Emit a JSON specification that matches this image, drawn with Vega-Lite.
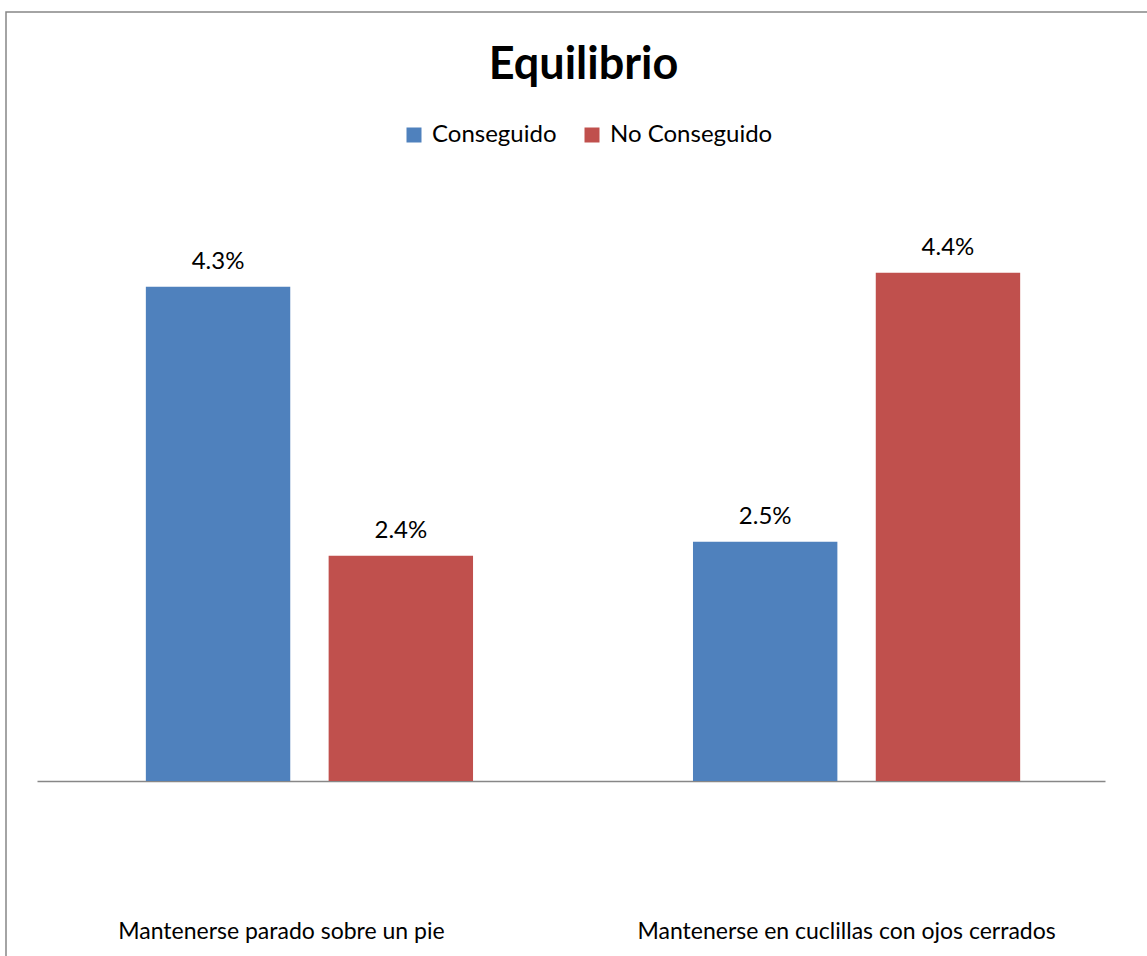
{
  "$schema": "https://vega.github.io/schema/vega-lite/v6.json",
  "width": 1143,
  "height": 946,
  "autosize": {"type": "none"},
  "padding": {"left": 6, "top": 12, "right": 0, "bottom": 0},
  "background": "white",
  "title": {
    "text": "Equilibrio",
    "font": "Lato",
    "fontSize": 45,
    "fontWeight": "bold",
    "color": "black",
    "anchor": "middle",
    "dx": 6,
    "offset": -76
  },
  "config": {
    "view": {"stroke": "#868686", "strokeWidth": 1.5},
    "font": "Lato"
  },
  "data": {
    "values": [
      {"prueba": "Mantenerse parado sobre un pie", "resultado": "Conseguido", "porcentaje": 0.043},
      {"prueba": "Mantenerse parado sobre un pie", "resultado": "No Conseguido", "porcentaje": 0.024},
      {"prueba": "Mantenerse en cuclillas con ojos cerrados", "resultado": "Conseguido", "porcentaje": 0.025},
      {"prueba": "Mantenerse en cuclillas con ojos cerrados", "resultado": "No Conseguido", "porcentaje": 0.044}
    ]
  },
  "encoding": {
    "x": {
      "field": "prueba",
      "type": "nominal",
      "sort": ["Mantenerse parado sobre un pie", "Mantenerse en cuclillas con ojos cerrados"],
      "scale": {"range": [31, 1099], "paddingInner": 0.402, "paddingOuter": 0.177, "align": 0.562},
      "axis": {
        "title": null,
        "orient": "bottom",
        "offset": -177,
        "domainColor": "#878787",
        "domainWidth": 1.5,
        "ticks": false,
        "grid": false,
        "labelAngle": 0,
        "labelFont": "Lato",
        "labelFontSize": 23,
        "labelColor": "black",
        "labelPadding": 139,
        "labelLimit": 0,
        "labelOffset": {
          "condition": {"test": "datum.value === 'Mantenerse parado sobre un pie'", "value": -28},
          "value": -10
        }
      }
    },
    "xOffset": {
      "field": "resultado",
      "type": "nominal",
      "sort": ["Conseguido", "No Conseguido"],
      "scale": {"paddingInner": 0.21}
    },
    "y": {
      "field": "porcentaje",
      "type": "quantitative",
      "scale": {"domain": [-0.0044, 0.06241], "zero": false, "nice": false},
      "axis": null
    }
  },
  "layer": [
    {
      "mark": {"type": "bar"},
      "encoding": {
        "y2": {"datum": 0.0081},
        "color": {
          "field": "resultado",
          "type": "nominal",
          "scale": {"domain": ["Conseguido", "No Conseguido"], "range": ["#4F81BD", "#C0504D"]},
          "legend": {
            "title": null,
            "orient": "none",
            "legendX": 396,
            "legendY": 111,
            "direction": "horizontal",
            "symbolType": "square",
            "symbolSize": 225,
            "symbolStrokeWidth": 0,
            "labelFont": "Lato",
            "labelFontSize": 24,
            "labelColor": "black",
            "labelOffset": 6,
            "labelLimit": 0,
            "columnPadding": 23,
            "padding": 0
          }
        }
      }
    },
    {
      "mark": {"type": "text", "baseline": "alphabetic", "dy": -18, "fontSize": 24, "font": "Lato", "color": "black"},
      "encoding": {
        "text": {"field": "porcentaje", "type": "quantitative", "format": ".1%"}
      }
    }
  ]
}
